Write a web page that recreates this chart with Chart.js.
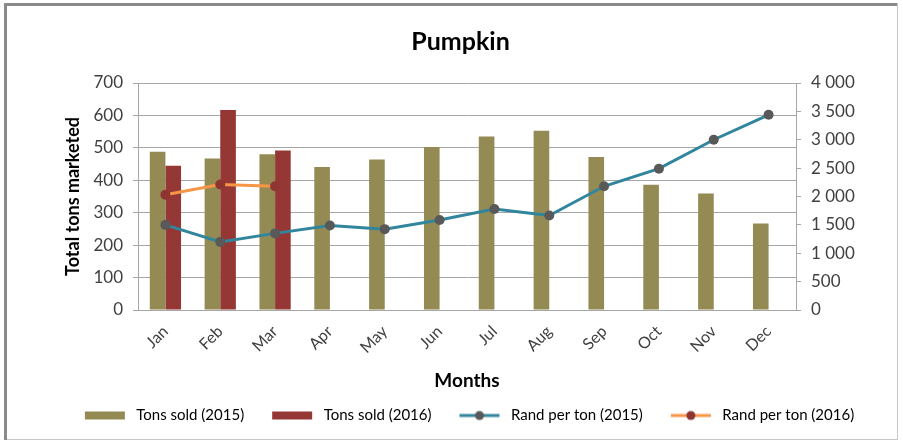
<!DOCTYPE html>
<html>
<head>
<meta charset="utf-8">
<script src="https://cdn.jsdelivr.net/npm/chart.js@4/dist/chart.umd.min.js"></script>
<style>
  html, body { margin: 0; padding: 0; background: #ffffff; }
  #wrap { width: 903px; height: 443px; position: relative; }
</style>
</head>
<body>
<div id="wrap"><canvas id="c" width="903" height="443"></canvas></div>
<script>
// Monthly pumpkin market figures
const months = ['Jan', 'Feb', 'Mar', 'Apr', 'May', 'Jun', 'Jul', 'Aug', 'Sep', 'Oct', 'Nov', 'Dec'];
const tonsSold2015 = [488, 467, 480, 441, 464, 503, 535, 553, 472, 386, 359, 267];
const tonsSold2016 = [445, 617, 492, null, null, null, null, null, null, null, null, null];
const randPerTon2015 = [1500, 1200, 1350, 1490, 1425, 1585, 1780, 1665, 2180, 2490, 3000, 3440];
const randPerTon2016 = [2030, 2210, 2180, null, null, null, null, null, null, null, null, null];

const seriesNames = ['Tons sold (2015)', 'Tons sold (2016)', 'Rand per ton (2015)', 'Rand per ton (2016)'];

const FONT = 'Lato, "Liberation Sans", sans-serif';
const olive = '#948a54';
const darkRed = '#953735';
const teal = '#31859c';
const orange = '#f79646';
const markerGray = '#595959';
const markerRed = '#8e3532';
const gridGray = '#a6a6a6';

// Legend swatches: 18px of blank lead-in, a 40px symbol, then a small gap before the text
const SW_W = 62, SW_H = 12, SW_X = 18;
function barSwatch(color) {
  const cv = document.createElement('canvas');
  cv.width = SW_W; cv.height = SW_H;
  const g = cv.getContext('2d');
  g.fillStyle = color;
  g.fillRect(SW_X, 2, 40, 8);
  return cv;
}
function lineSwatch(lineColor, dotColor) {
  const cv = document.createElement('canvas');
  cv.width = SW_W; cv.height = SW_H;
  const g = cv.getContext('2d');
  g.strokeStyle = lineColor; g.lineWidth = 3;
  g.beginPath(); g.moveTo(SW_X, 6); g.lineTo(SW_X + 40, 6); g.stroke();
  g.fillStyle = dotColor;
  g.beginPath(); g.arc(SW_X + 20, 6, 4.5, 0, Math.PI * 2); g.fill();
  return cv;
}
const swatches = [barSwatch(olive), barSwatch(darkRed), lineSwatch(teal, markerGray), lineSwatch(orange, markerRed)];

// White background and the frame round the whole chart
const framePlugin = {
  id: 'frame',
  beforeDraw(chart) {
    const ctx = chart.ctx;
    ctx.save();
    ctx.fillStyle = '#ffffff';
    ctx.fillRect(0, 0, chart.width, chart.height);
    ctx.strokeStyle = '#c8c8c8';
    ctx.lineWidth = 1;
    ctx.strokeRect(4.5, 3.5, 893, 436);
    ctx.strokeStyle = '#8a8a8a';
    ctx.lineWidth = 3;
    ctx.beginPath();
    ctx.moveTo(5.5, 440); ctx.lineTo(5.5, 4.5); ctx.lineTo(897, 4.5);
    ctx.stroke();
    ctx.restore();
  }
};

const thousands = v => String(v).replace(/\B(?=(\d{3})+(?!\d))/g, ' ');

new Chart(document.getElementById('c'), {
  data: {
    labels: months,
    datasets: [
      { type: 'bar', label: seriesNames[0], data: tonsSold2015, backgroundColor: olive, yAxisID: 'y', order: 3,
        categoryPercentage: 0.57, barPercentage: 1.0 },
      { type: 'bar', label: seriesNames[1], data: tonsSold2016, backgroundColor: darkRed, yAxisID: 'y', order: 3,
        categoryPercentage: 0.57, barPercentage: 1.0 },
      { type: 'line', label: seriesNames[2], data: randPerTon2015, yAxisID: 'y1', order: 2,
        borderColor: teal, backgroundColor: markerGray, borderWidth: 3,
        pointRadius: 5, pointBackgroundColor: markerGray, pointBorderColor: markerGray, pointBorderWidth: 0,
        tension: 0, spanGaps: false },
      { type: 'line', label: seriesNames[3], data: randPerTon2016, yAxisID: 'y1', order: 1,
        borderColor: orange, backgroundColor: markerRed, borderWidth: 3,
        pointRadius: 5, pointBackgroundColor: markerRed, pointBorderColor: markerRed, pointBorderWidth: 0,
        tension: 0, spanGaps: false }
    ]
  },
  options: {
    responsive: false,
    animation: false,
    layout: { padding: { left: 18, right: 0, top: 0, bottom: 10 } },
    plugins: {
      tooltip: { enabled: false },
      title: {
        display: true,
        text: 'Pumpkin',
        color: '#000000',
        font: { family: FONT, size: 25, weight: 'bold' },
        padding: { top: 27, bottom: 26 }
      },
      legend: {
        position: 'bottom',
        labels: {
          color: '#000000',
          font: { family: FONT, size: 15 },
          usePointStyle: true,
          pointStyleWidth: SW_W,
          boxHeight: 12,
          padding: 10,
          sort: (a, b) => a.datasetIndex - b.datasetIndex,
          generateLabels(chart) {
            const items = Chart.defaults.plugins.legend.labels.generateLabels(chart);
            items.forEach(it => {
              it.pointStyle = swatches[it.datasetIndex];
              it.lineWidth = 0;
            });
            return items;
          }
        }
      }
    },
    scales: {
      x: {
        grid: { display: false, drawTicks: true, tickLength: 4 },
        border: { display: true, color: gridGray, width: 1 },
        ticks: { color: '#404040', font: { family: FONT, size: 16 }, minRotation: 45, maxRotation: 45, padding: 8 },
        title: { display: true, text: 'Months', color: '#000000', font: { family: FONT, size: 19, weight: 'bold' },
                 padding: { top: 0, bottom: 6 } },
        afterFit(scale) { scale.height = 88; }
      },
      y: {
        position: 'left',
        min: 0, max: 700,
        ticks: { stepSize: 100, color: '#404040', font: { family: FONT, size: 17 }, padding: 10 },
        grid: { color: gridGray, lineWidth: 1, tickLength: 5 },
        border: { display: true, color: gridGray, width: 1 },
        title: { display: true, text: 'Total tons marketed', color: '#000000', font: { family: FONT, size: 18, weight: 'bold' },
                 padding: { top: 44, bottom: 0 } },
        afterFit(scale) { scale.width = 120; }
      },
      y1: {
        position: 'right',
        min: 0, max: 4000,
        ticks: { stepSize: 500, color: '#404040', font: { family: FONT, size: 17 }, padding: 10,
                 callback: v => thousands(v) },
        grid: { drawOnChartArea: false, color: gridGray, tickLength: 5 },
        border: { display: true, color: gridGray, width: 1 },
        afterFit(scale) { scale.width = 107; }
      }
    }
  },
  plugins: [framePlugin]
});
</script>
</body>
</html>
